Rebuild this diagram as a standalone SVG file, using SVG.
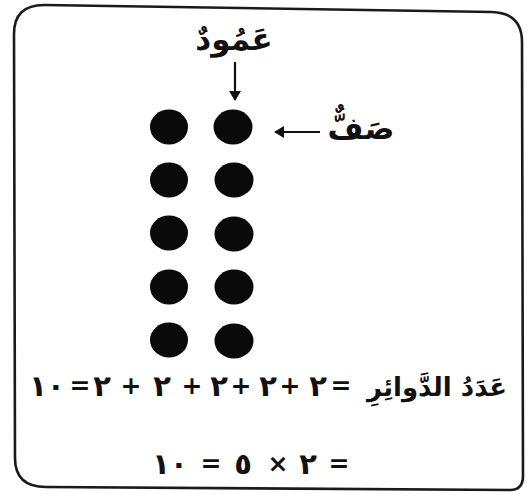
<svg xmlns="http://www.w3.org/2000/svg" width="527" height="494" viewBox="0 0 527 494">
<style>
.t{font-family:"DejaVu Sans",sans-serif;font-weight:bold;fill:#111;text-anchor:middle}
.lab{font-size:31px}
.eq{font-size:26px}
.d{font-size:29px}
.p{font-size:25px}
.dot{fill:#0a0a0a}
</style>
<defs>
<marker id="ah" markerWidth="10" markerHeight="12" refX="9" refY="6" orient="auto" markerUnits="userSpaceOnUse">
<path d="M0,0 L10,6 L0,12 Z" fill="#111"/>
</marker>
</defs>
<rect width="527" height="494" fill="#fff"/>
<path d="M14,34 Q14,5 44,5 L492,12 Q522,13 522,42 L523,476 Q523,490 510,490 L46,487 Q15,487 15,458 Z" fill="none" stroke="#1a1a1a" stroke-width="2.6"/>
<g id="column-label"><text class="t lab" x="234" y="50">عَمُودٌ</text></g>
<g id="row-label"><text class="t lab" x="361" y="139">صَفٌّ</text></g>
<g id="dots">
<ellipse class="dot" cx="169" cy="127" rx="19" ry="17.5"/>
<ellipse class="dot" cx="233" cy="127" rx="19.5" ry="17.5"/>
<ellipse class="dot" cx="169" cy="180" rx="19" ry="17.5"/>
<ellipse class="dot" cx="234" cy="180" rx="19.5" ry="17.5"/>
<ellipse class="dot" cx="169" cy="233" rx="19" ry="17.5"/>
<ellipse class="dot" cx="234" cy="234" rx="19.5" ry="17.5"/>
<ellipse class="dot" cx="169" cy="287" rx="19" ry="17.5"/>
<ellipse class="dot" cx="234" cy="287" rx="19.5" ry="17.5"/>
<ellipse class="dot" cx="169" cy="340" rx="19" ry="17.5"/>
<ellipse class="dot" cx="234" cy="341" rx="19.5" ry="17.5"/>
</g>
<g id="connectors" stroke="#111" stroke-width="2.2" fill="none">
<line x1="235" y1="62" x2="235" y2="100" marker-end="url(#ah)"/>
<line x1="320" y1="132" x2="275" y2="132" marker-end="url(#ah)"/>
</g>
<g id="equation1" class="t eq">
<text x="437" y="396">عَدَدُ الدَّوائِرِ</text>
<text class="p" x="341" y="394">=</text>
<text class="d" x="318" y="396">٢</text>
<text class="p" x="290" y="394">+</text>
<text class="d" x="268" y="396">٢</text>
<text class="p" x="241" y="394">+</text>
<text class="d" x="219" y="396">٢</text>
<text class="p" x="192" y="394">+</text>
<text class="d" x="162" y="396">٢</text>
<text class="p" x="131" y="394">+</text>
<text class="d" x="102" y="396">٢</text>
<text class="p" x="80" y="394">=</text>
<text class="d" x="47" y="396">١٠</text>
</g>
<g id="equation2" class="t eq">
<text class="p" x="339" y="472">=</text>
<text class="d" x="308" y="474">٢</text>
<text class="p" x="278" y="472">×</text>
<text class="d" x="243" y="474">٥</text>
<text class="p" x="211" y="472">=</text>
<text class="d" x="170" y="474">١٠</text>
</g>
</svg>
